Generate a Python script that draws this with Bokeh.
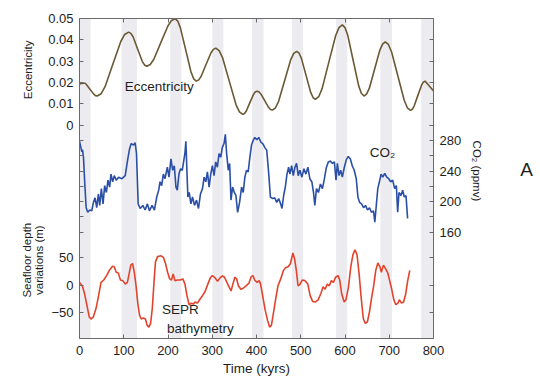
import math
from bokeh.plotting import figure
from bokeh.layouts import row
from bokeh.models import Range1d, LinearAxis, FixedTicker, BoxAnnotation, Label
from bokeh.embed import file_html
from bokeh.resources import INLINE

# ---------------- data ----------------
ecc_time = [0, 4.5, 9, 12.9, 16.8, 24.5, 32.3, 36.1, 40, 48.9, 57.8, 75.5, 93.3, 102.1, 111,
            116.1, 121.3, 131.5, 141.8, 146.9, 152, 160, 168, 184, 200, 208, 216, 222, 228,
            240, 252, 258, 264, 269.5, 275, 286, 297, 302.5, 308, 315.6, 323.3, 338.5, 353.8,
            361.4, 369, 373, 377, 385, 393, 397, 401, 405.4, 409.8, 418.5, 427.3, 431.6, 436,
            442.9, 449.8, 463.5, 477.3, 484.1, 491, 496.3, 501.5, 512, 522.5, 527.8, 533,
            540.6, 548.3, 563.5, 578.8, 586.4, 594, 600.1, 606.3, 618.5, 630.8, 636.9, 643,
            649, 655, 667, 679, 685, 691, 698.1, 705.3, 719.5, 733.8, 740.9, 748, 752.1,
            756.3, 764.5, 772.8, 776.9, 781, 790.5, 800]
eccentricity = [.0193, .0195, .0196, .0196, .0187, .0166, .0145, .0138, .0136, .0147, .0180,
                .0286, .0392, .0425, .0436, .0430, .0413, .0356, .0299, .0282, .0276, .0284,
                .0309, .0388, .0466, .0491, .0499, .0488, .0456, .0353, .0249, .0217, .0206,
                .0212, .0229, .0284, .0338, .0355, .0361, .0349, .0316, .0206, .0095, .0062,
                .0050, .0054, .0066, .0105, .0143, .0155, .0159, .0156, .0146, .0115, .0083,
                .0073, .0070, .0081, .0110, .0208, .0306, .0336, .0346, .0337, .0313, .0233,
                .0153, .0129, .0120, .0133, .0171, .0295, .0419, .0457, .0470, .0457, .0421,
                .0303, .0185, .0149, .0136, .0146, .0173, .0263, .0353, .0380, .0390, .0378,
                .0343, .0230, .0116, .0081, .0069, .0074, .0089, .0138, .0186, .0201, .0206,
                .0183, .0160]

co2_time = [0, 3, 5.2, 6.7, 9, 12, 15, 18.7, 23.2, 27.7,
            31.5, 35.2, 38.9, 42.7, 45.7, 49.4, 53.2, 56.9, 60.7, 64.4,
            68.1, 71.1, 74.9, 78.6, 83.1, 88.4, 95.9, 103.3, 108.6, 113.1,
            116.8, 122.1, 125.8, 128.8, 132.6, 137.1, 143.1, 148.3, 153.5, 158,
            164, 169.3, 174.5, 179, 182, 185.7, 189.5, 193.2, 198.5, 202.2,
            206.7, 210.5, 214.2, 218, 221, 224.7, 228.4, 232.2, 235.2, 238.2,
            240.4, 242.7, 244.9, 247.9, 251.7, 255.4, 259.9, 264.4, 268.9, 273.4,
            277.9, 281.6, 285.4, 289.1, 292.9, 296.6, 300.3, 304.1, 307.8, 311.6,
            315.3, 319.1, 322.8, 326.6, 329.6, 332.5, 336.3, 339.3, 342.3, 346,
            349.8, 353.5, 357.3, 361.8, 366.3, 370, 373.7, 377.5, 381.2, 385,
            388.7, 392.5, 396.2, 400.7, 405.2, 409.7, 414.2, 418.7, 423.2, 427.7,
            431.4, 436.7, 441.2, 445.6, 450.1, 454.6, 457.6, 461.4, 465.1, 468.9,
            472.6, 475.6, 479.4, 483.1, 486.8, 490.6, 494.3, 498.1, 502.6, 507.1,
            511.6, 516.1, 520.5, 525, 528.8, 531.8, 535.5, 540, 544.5, 549,
            553.5, 558, 562.5, 567, 571.5, 576, 579.7, 582.7, 586.5, 590.2,
            594, 598.5, 603, 607.4, 611.9, 616.4, 620.9, 625.4, 629.2, 632.9,
            637.4, 641.9, 646.4, 650.9, 655.4, 659.9, 664.4, 667.4, 670.4, 674.1,
            677.8, 681.6, 685.3, 689.8, 694.3, 698.8, 703.3, 707.8, 712.3, 716.1,
            719, 722, 726.5, 730.3, 734, 737.8, 741.5]
co2_ppmv = [279, 271, 265, 268, 258, 223, 192, 186, 189, 188,
            199, 205, 192, 210, 195, 217, 197, 221, 212, 228,
            219, 236, 226, 234, 228, 232, 230, 234, 254, 269,
            276, 274, 277, 263, 197, 191, 195, 189, 197, 188,
            195, 189, 206, 215, 226, 221, 236, 230, 245, 232,
            256, 241, 247, 219, 215, 236, 243, 241, 252, 263,
            279, 241, 206, 212, 197, 206, 195, 202, 191, 210,
            217, 232, 226, 239, 219, 236, 247, 234, 252, 245,
            263, 258, 271, 276, 288, 263, 241, 250, 202, 219,
            212, 208, 186, 199, 219, 212, 232, 241, 239, 258,
            274, 280, 284, 281, 284, 278, 276, 271, 267, 236,
            206, 204, 205, 199, 204, 197, 191, 208, 219, 236,
            245, 236, 247, 234, 245, 250, 234, 241, 232, 243,
            236, 245, 230, 226, 212, 195, 217, 212, 223, 217,
            230, 245, 252, 253, 250, 252, 228, 250, 234, 241,
            232, 245, 255, 259, 256, 247, 241, 230, 206, 199,
            197, 192, 195, 189, 192, 186, 188, 173, 193, 217,
            226, 236, 232, 237, 232, 230, 226, 228, 217, 221,
            186, 212, 208, 215, 206, 208, 178]

sf_time = [0, 6.3, 11.8, 17.2, 22, 25.9, 31.4, 37.6, 43, 48.6,
           54.9, 61.2, 67.4, 74.5, 78.4, 83.1, 87.8, 92.5, 97.9, 103.5,
           108.2, 112.1, 116, 119.9, 123.9, 127.8, 131.7, 135.6, 139.6, 144.3,
           149, 152.9, 156.8, 160.7, 164.6, 168.6, 171.7, 176.4, 184.2, 189.7,
           194.4, 199.1, 203.8, 207.8, 211.7, 215.6, 221.1, 227.4, 233.6, 238.3,
           243, 247.7, 253.2, 257.2, 261.1, 266.6, 271.3, 277.5, 283.8, 290,
           295.6, 300.3, 305.8, 312, 317.5, 323, 327.7, 333.2, 338.7, 342.6,
           346.5, 351.2, 355.2, 359.1, 364.6, 370, 376.3, 382.6, 388, 392,
           395.9, 401.4, 406.1, 409.2, 414, 419.4, 424.9, 429.6, 433.6, 437.5,
           443, 448.5, 454.7, 461, 465.7, 471.9, 476.7, 482.2, 486, 490,
           493.9, 498.6, 503.3, 509.6, 515.9, 521.4, 526.8, 533.1, 539.4, 545.7,
           550.4, 555.1, 559.8, 564.5, 569.2, 574, 578.7, 584.2, 588.1, 592.7,
           598.2, 602.1, 607.6, 613.1, 617.8, 622.5, 627.2, 631.9, 636.6, 641.3,
           646, 650.7, 655.4, 660.1, 664.8, 669.5, 674.2, 678.9, 682.1, 686.8,
           691.5, 696.2, 700.9, 705.6, 710.3, 715, 719.7, 722.8, 727.6, 732.3,
           737, 741.7, 746.4]
seafloor_m = [5.6, -0.6, -16, -38, -57, -61, -57, -41, -19, 5.6,
              10, 18, 27.5, 35, 34, 24, 22.5, 10, 8.8, 2.5,
              5.6, 21, 37, 40, 24, -0.6, -32, -54, -61, -59,
              -61, -72.5, -75.6, -69, -41, 8.8, 43, 52.5, 54, 51,
              40, 24, 12, 10, 21, 8.8, 10, 10, 12, 2.5,
              -19, -35, -32, -34, -30, -32, -26, -19, -11, 2.5,
              13.8, 18, 14.4, 7.5, 13.8, 17.5, 15, 5.6, -3.8, -10,
              2.5, 15, 11.9, -0.6, -6.9, -5, -0.6, 3.8, 16, 18,
              10, 5.6, 8.8, 2.5, -19, -44, -63, -75.6, -72.5, -54,
              -26, -0.6, 12, 27.5, 32.5, 34, 40, 59, 49, 27.5,
              -0.6, 2.5, 10, 8.8, 2.5, -19, -29, -30, -26, -14,
              -2.5, -6.9, 2.5, -0.6, 8.8, 5.6, 15, 18, 10, -16,
              -30, -26, -3.8, 34, 55.6, 65, 55.6, 21, -22.5, -60,
              -69, -66, -47.5, -22.5, -0.6, 27.5, 41, 34, 24, 37,
              30.6, 24, 8.8, -6.9, -26, -35, -32, -26, -32, -30,
              -16, 8.8, 27.5]

band_start = [0, 95, 205, 300, 390, 480, 580, 680, 772]
band_end = [25, 130, 230, 325, 416, 505, 605, 706, 800]

x_ticks = [0, 100, 200, 300, 400, 500, 600, 700, 800]
ecc_ticks = [0, 0.01, 0.02, 0.03, 0.04, 0.05]
ecc_tick_labels = ["0", "0.01", "0.02", "0.03", "0.04", "0.05"]
co2_labeled_ticks = [160, 200, 240, 280]
co2_minor_ticks = [180, 220, 260, 300]
sf_ticks = [-50, 0, 50]
sf_tick_labels = ["\u221250", "0", "50"]

# ---------------- ranges (each series occupies its own band of the frame) ----------------
SF_RANGE = (-96.4, 485.5)
ECC_RANGE = (-0.1002, 0.05)
CO2_RANGE = (20.8, 439.7)


def remap(v, src, dst):
    f = (v - src[0]) / (src[1] - src[0])
    return round(dst[0] + f * (dst[1] - dst[0]), 5)


FONT = "Liberation Sans"
AXIS_COLOR = "#6a6a6a"
TEXT_COLOR = "#1e1e1e"
H = 380
LEFT_W = 45          # side panel holding the left rotated labels
BL, BR = 33, 30      # main figure borders (tick labels)
FRAME_W = 356
FT, FB = 18, 338     # frame top / bottom on the canvas
MAIN_W = BL + FRAME_W + BR
RIGHT_W = 72

p = figure(width=MAIN_W, height=H, output_backend="svg", toolbar_location=None,
           x_range=Range1d(0, 800), y_range=Range1d(*SF_RANGE),
           min_border_left=BL, min_border_right=BR, min_border_top=FT,
           min_border_bottom=H - FB)
p.extra_y_ranges = {"ecc": Range1d(*ECC_RANGE), "co2": Range1d(*CO2_RANGE)}
p.outline_line_color = None
p.xgrid.visible = False
p.ygrid.visible = False
p.background_fill_color = "white"
p.border_fill_color = "white"

for s, e in zip(band_start, band_end):
    p.add_layout(BoxAnnotation(left=s, right=e, fill_color="#ececf0", fill_alpha=1.0,
                               line_color=None, level="underlay"))

p.line(ecc_time, eccentricity, y_range_name="ecc", line_color="#6b5834", line_width=1.6)
p.line(co2_time, co2_ppmv, y_range_name="co2", line_color="#2b4fa6", line_width=1.6)
p.line(sf_time, seafloor_m, line_color="#e2432c", line_width=1.6)


def style_axis(ax):
    ax.axis_line_color = AXIS_COLOR
    ax.major_tick_line_color = AXIS_COLOR
    ax.minor_tick_line_color = AXIS_COLOR
    ax.major_tick_in = 4
    ax.major_tick_out = 0
    ax.minor_tick_in = 4
    ax.minor_tick_out = 0
    ax.major_label_text_font = FONT
    ax.major_label_text_font_size = "13px"
    ax.major_label_text_color = TEXT_COLOR
    ax.major_label_standoff = 6


# bottom axis
xax = p.xaxis[0]
style_axis(xax)
xax.ticker = FixedTicker(ticks=x_ticks, minor_ticks=[])
xax.major_label_standoff = 7
xax.axis_label = "Time (kyrs)"
xax.axis_label_text_font = FONT
xax.axis_label_text_font_size = "13.5px"
xax.axis_label_text_font_style = "normal"
xax.axis_label_text_color = TEXT_COLOR
xax.axis_label_standoff = 3

# top axis: mirrored ticks only (minor ticks carry no labels)
top = LinearAxis(ticker=FixedTicker(ticks=[], minor_ticks=x_ticks))
style_axis(top)
top.major_label_standoff = 0
p.add_layout(top, "above")

# left axis: eccentricity (top band) + seafloor (bottom band); CO2 ticks mirrored as minor ticks
yax = p.yaxis[0]
style_axis(yax)
left_ticks, left_labels = [], {}
for t, lab in zip(sf_ticks, sf_tick_labels):
    v = float(t)
    left_ticks.append(v)
    left_labels[v] = lab
for t, lab in zip(ecc_ticks, ecc_tick_labels):
    v = remap(t, ECC_RANGE, SF_RANGE)
    left_ticks.append(v)
    left_labels[v] = lab
left_minor = [remap(t, CO2_RANGE, SF_RANGE) for t in co2_labeled_ticks + co2_minor_ticks]
yax.ticker = FixedTicker(ticks=left_ticks, minor_ticks=left_minor)
yax.major_label_overrides = left_labels

# right axis: CO2 (middle band); other bands' ticks mirrored as minor ticks
right_minor = list(co2_minor_ticks)
right_minor += [remap(t, ECC_RANGE, CO2_RANGE) for t in ecc_ticks]
right_minor += [remap(t, SF_RANGE, CO2_RANGE) for t in sf_ticks]
rax = LinearAxis(y_range_name="co2",
                 ticker=FixedTicker(ticks=co2_labeled_ticks, minor_ticks=right_minor))
style_axis(rax)
p.add_layout(rax, "right")


def X(px):  # main canvas pixel -> kyr
    return (px - BL) / (FRAME_W / 800.0)


def Y(py):  # canvas pixel -> primary (seafloor) units
    return SF_RANGE[1] - (py - FT) / ((FB - FT) / (SF_RANGE[1] - SF_RANGE[0]))


def add_text(fig, text, x, y, size, angle=0.0, align="left"):
    fig.add_layout(Label(x=x, y=y, text=text, angle=angle,
                         text_align=align, text_baseline="middle",
                         text_font=FONT, text_font_size=size, text_color=TEXT_COLOR))


# in-plot labels (main figure; image x = LEFT_W + canvas x)
add_text(p, "Eccentricity", X(123.5 - LEFT_W), Y(86), "13.5px")
add_text(p, "CO\u2082", X(370 - LEFT_W), Y(152), "13.5px")
add_text(p, "SEPR", X(161 - LEFT_W), Y(309), "13.5px")
add_text(p, "bathymetry", X(166 - LEFT_W), Y(328), "13.5px")


def side_panel(width):
    f = figure(width=width, height=H, output_backend="svg", toolbar_location=None,
               x_range=Range1d(0, width), y_range=Range1d(H, 0),
               x_axis_location=None, y_axis_location=None, min_border=0)
    f.outline_line_color = None
    f.grid.visible = False
    f.background_fill_color = "white"
    f.border_fill_color = "white"
    return f


# left panel: rotated axis titles
lp = side_panel(LEFT_W)
add_text(lp, "Eccentricity", 27, 61, "11.5px", angle=math.pi / 2, align="center")
add_text(lp, "Seafloor depth", 26, 287, "11.5px", angle=math.pi / 2, align="center")
add_text(lp, "variations (m)", 38.5, 287, "11.5px", angle=math.pi / 2, align="center")

# right panel: CO2 axis title and panel letter
rp = side_panel(RIGHT_W)
x0 = LEFT_W + MAIN_W
add_text(rp, "CO\u2082 (ppmv)", 476 - x0, 181, "11.5px", angle=-math.pi / 2, align="center")
add_text(rp, "A", 526 - x0, 179, "19px", align="center")

layout = row(lp, p, rp)
open("out.html", "w").write(file_html(layout, INLINE))
